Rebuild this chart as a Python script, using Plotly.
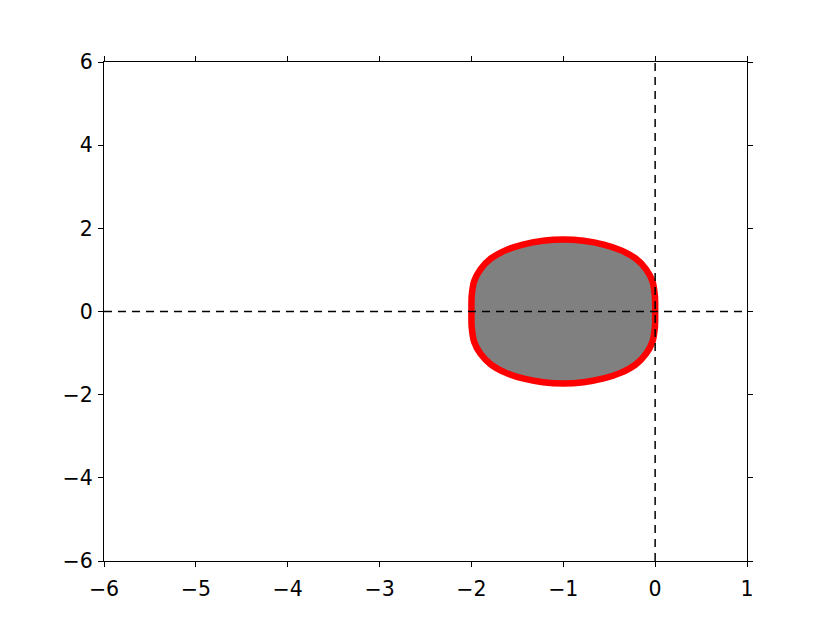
import plotly.graph_objects as go

# boundary of the shaded region (closed loop)
boundary_x = [
    -1.00, -0.78, -0.56, -0.37, -0.21, -0.10, -0.03, -0.003, 0.00, 0.00,
    0.00, -0.003, -0.03, -0.10, -0.21, -0.37, -0.56, -0.78, -1.00,
    -1.22, -1.44, -1.63, -1.79, -1.90, -1.97, -1.997, -2.00, -2.00,
    -2.00, -1.997, -1.97, -1.90, -1.79, -1.63, -1.44, -1.22, -1.00,
]
boundary_y = [
    1.73, 1.70, 1.61, 1.47, 1.27, 1.02, 0.73, 0.38, 0.20, 0.00,
    -0.20, -0.38, -0.73, -1.02, -1.27, -1.47, -1.61, -1.70, -1.73,
    -1.70, -1.61, -1.47, -1.27, -1.02, -0.73, -0.38, -0.20, 0.00,
    0.20, 0.38, 0.73, 1.02, 1.27, 1.47, 1.61, 1.70, 1.73,
]

x_range = [-6, 1]
y_range = [-6, 6]
x_ticks = [-6, -5, -4, -3, -2, -1, 0, 1]
y_ticks = [-6, -4, -2, 0, 2, 4, 6]

fig = go.Figure()
fig.add_trace(
    go.Scatter(
        x=boundary_x,
        y=boundary_y,
        mode="lines",
        fill="toself",
        fillcolor="#808080",
        line=dict(color="#ff0000", width=6.5, shape="spline", smoothing=0.6),
        hoverinfo="skip",
    )
)
# dashed axes through the origin
fig.add_trace(
    go.Scatter(
        x=x_range,
        y=[0, 0],
        mode="lines",
        line=dict(color="black", width=1.5, dash="8px,6px"),
    )
)
fig.add_trace(
    go.Scatter(
        x=[0, 0],
        y=y_range,
        mode="lines",
        line=dict(color="black", width=1.5, dash="8px,6px"),
    )
)

axis_style = dict(
    showline=True,
    linecolor="black",
    linewidth=1.2,
    mirror="ticks",
    ticks="outside",
    ticklen=5,
    tickwidth=1,
    tickcolor="black",
    showgrid=False,
    zeroline=False,
    tickfont=dict(family="DejaVu Sans", size=20.5, color="black"),
)
fig.update_xaxes(range=x_range, tickvals=x_ticks, ticklabelstandoff=4, **axis_style)
fig.update_yaxes(range=y_range, tickvals=y_ticks, ticklabelstandoff=1, **axis_style)
# the page body adds an 8px offset, so the figure is sized to fit inside it
fig.update_layout(
    width=822,
    height=615,
    margin=dict(l=96, r=83, t=54, b=62),
    plot_bgcolor="white",
    paper_bgcolor="white",
    showlegend=False,
)
fig.write_html("out.html")
